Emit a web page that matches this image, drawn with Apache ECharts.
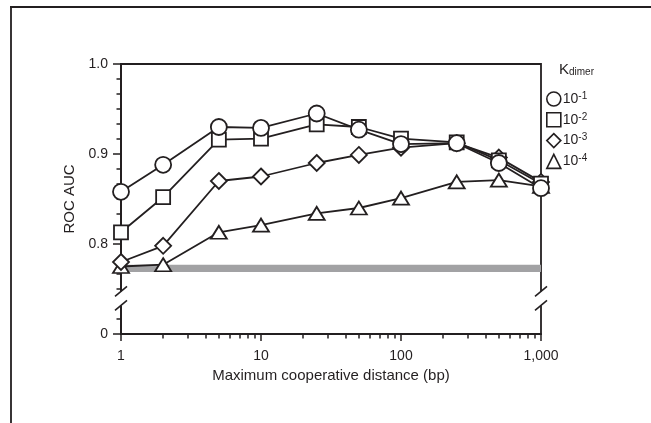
<!DOCTYPE html>
<html>
<head>
<meta charset="utf-8">
<script src="https://cdn.jsdelivr.net/npm/echarts@6.0.0/dist/echarts.min.js"></script>
<style>
  html, body { margin: 0; padding: 0; background: #fff; }
  #main { width: 651px; height: 423px; }
</style>
</head>
<body>
<div id="main"></div>
<script>
// maximum cooperative distance (bp), log axis
const distances = [1, 2, 5, 10, 25, 50, 100, 250, 500, 1000]
// ROC AUC for each K_dimer
const aucK1 = [0.858, 0.888, 0.930, 0.929, 0.945, 0.927, 0.911, 0.912, 0.890, 0.862]
const aucK2 = [0.813, 0.852, 0.916, 0.917, 0.933, 0.930, 0.917, 0.913, 0.893, 0.867]
const aucK3 = [0.780, 0.798, 0.870, 0.875, 0.890, 0.899, 0.907, 0.912, 0.896, 0.869]
const aucK4 = [0.775, 0.777, 0.813, 0.821, 0.834, 0.840, 0.851, 0.869, 0.871, 0.864]
const seriesNames = ['10-1', '10-2', '10-3', '10-4']
// minor ticks of the log axis
const minorDistances = [2, 3, 4, 5, 6, 7, 8, 9, 20, 30, 40, 50, 60, 70, 80, 90, 200, 300, 400, 500, 600, 700, 800, 900]
// y axis is broken: the 0.7 position is labelled 0
const yTickValues = [0.7, 0.8, 0.9, 1.0]
const yTickLabels = ['0', '0.8', '0.9', '1.0']
// grey baseline band
const baseBand = [0.769, 0.777]

const ink = '#231f20'
const font = '"Liberation Sans", Arial, sans-serif'

function pairs(ys) {
  return distances.map((d, i) => [d, ys[i]])
}

function lineSeries(name, ys, symbol, size) {
  return {
    name: name,
    type: 'line',
    data: pairs(ys),
    symbol: symbol,
    symbolSize: size,
    showAllSymbol: true,
    lineStyle: { color: ink, width: 1.8 },
    itemStyle: { color: '#fff', borderColor: ink, borderWidth: 1.8 },
    emphasis: { disabled: true },
    animation: false,
  }
}

const tri = lineSeries(seriesNames[3], aucK4, 'triangle', [16, 13])
tri.markArea = {
  silent: true,
  itemStyle: { color: '#a2a2a4' },
  data: [[{ yAxis: baseBand[0] }, { yAxis: baseBand[1] }]],
}

const option = {
  animation: false,
  textStyle: { fontFamily: font, color: ink },
  title: {
    text: '{k|K}{s|dimer}',
    left: 554,
    top: 55,
    textStyle: {
      fontWeight: 'normal',
      rich: {
        k: { fontSize: 15, lineHeight: 17, color: ink, fontFamily: font, fontWeight: 'normal', verticalAlign: 'bottom' },
        s: { fontSize: 10, lineHeight: 4, color: ink, fontFamily: font, fontWeight: 'normal', verticalAlign: 'bottom' },
      },
    },
  },
  legend: {
    orient: 'vertical',
    left: 541,
    top: 86,
    itemWidth: 14,
    itemHeight: 14,
    itemGap: 5,
    selectedMode: false,
    itemStyle: { color: '#fff', borderColor: ink, borderWidth: 1.6 },
    data: [
      { name: seriesNames[0], icon: 'circle' },
      { name: seriesNames[1], icon: 'rect' },
      { name: seriesNames[2], icon: 'diamond' },
      { name: seriesNames[3], icon: 'triangle' },
    ],
    formatter(name) {
      return '{b|10}{sup|' + name.slice(2) + '}'
    },
    textStyle: {
      padding: [0, 0, 0, -3],
      rich: {
        b: { fontSize: 14, lineHeight: 16, color: ink, fontFamily: font },
        sup: { fontSize: 10, lineHeight: 7, color: ink, fontFamily: font, verticalAlign: 'top' },
      },
    },
  },
  grid: {
    left: 121,
    right: 110,
    top: 64,
    bottom: 89,
    show: true,
    borderColor: ink,
    borderWidth: 1.8,
    backgroundColor: 'transparent',
  },
  xAxis: [
    {
      type: 'log',
      logBase: 10,
      min: 1,
      max: 1000,
      position: 'bottom',
      name: 'Maximum cooperative distance (bp)',
      nameLocation: 'middle',
      nameGap: 32,
      nameTextStyle: { fontSize: 15, color: ink, fontFamily: font },
      axisLine: { show: true, lineStyle: { color: ink, width: 1.8 } },
      axisTick: { show: true, length: 7, lineStyle: { color: ink, width: 1.5 } },
      axisLabel: {
        fontSize: 14,
        color: ink,
        margin: 15,
        formatter(v) {
          const n = Math.round(v)
          return n >= 1000 ? '1,000' : String(n)
        },
      },
      splitLine: { show: false },
    },
    {
      // only the small ticks between decades
      type: 'log',
      logBase: 10,
      min: 1,
      max: 1000,
      position: 'bottom',
      axisLine: { show: false },
      axisLabel: { show: false },
      splitLine: { show: false },
      axisTick: { show: true, customValues: minorDistances, length: 4.5, lineStyle: { color: ink, width: 1.5 } },
    },
  ],
  yAxis: {
    type: 'value',
    min: 0.7,
    max: 1.0,
    interval: 0.1,
    name: 'ROC AUC',
    nameLocation: 'middle',
    nameGap: 39,
    nameTextStyle: { fontSize: 15, color: ink, fontFamily: font },
    axisLine: { show: true, lineStyle: { color: ink, width: 1.8 } },
    axisTick: { show: true, length: 8, lineStyle: { color: ink, width: 1.5 } },
    minorTick: { show: true, splitNumber: 6, length: 4.5, lineStyle: { color: ink, width: 1.5 } },
    axisLabel: {
      fontSize: 14,
      color: ink,
      margin: 13,
      formatter(v) {
        const i = yTickValues.findIndex((t) => Math.abs(t - v) < 1e-6)
        return i >= 0 ? yTickLabels[i] : ''
      },
    },
    splitLine: { show: false },
  },
  series: [
    tri,
    lineSeries(seriesNames[2], aucK3, 'diamond', [16, 16]),
    lineSeries(seriesNames[1], aucK2, 'rect', 14),
    lineSeries(seriesNames[0], aucK1, 'circle', 16),
  ],
}

const chart = echarts.init(document.getElementById('main'))
chart.setOption(option)

// axis break marks (left and right), plus the frame of the panel
const breakValue = 0.7395
const left = chart.convertToPixel({ gridIndex: 0 }, [1, breakValue])
const right = chart.convertToPixel({ gridIndex: 0 }, [1000, breakValue])

function breakMark(x, y, coverLeft) {
  const slash = { stroke: ink, lineWidth: 1.6 }
  return [
    { type: 'rect', z: 100, shape: { x: x - coverLeft, y: y - 7, width: coverLeft + 2.5, height: 14 }, style: { fill: '#fff' } },
    { type: 'line', z: 101, shape: { x1: x - 6, y1: y - 2, x2: x + 6, y2: y - 12 }, style: slash },
    { type: 'line', z: 101, shape: { x1: x - 6, y1: y + 12, x2: x + 6, y2: y + 2 }, style: slash },
  ]
}

chart.setOption({
  graphic: [
    ...breakMark(left[0], left[1], 6),
    ...breakMark(right[0], right[1], 2.5),
    { type: 'line', z: 100, shape: { x1: 11, y1: 7, x2: 11, y2: 423 }, style: { stroke: ink, lineWidth: 1.8 } },
    { type: 'line', z: 100, shape: { x1: 10, y1: 7, x2: 651, y2: 7 }, style: { stroke: ink, lineWidth: 1.8 } },
  ],
})
</script>
</body>
</html>
